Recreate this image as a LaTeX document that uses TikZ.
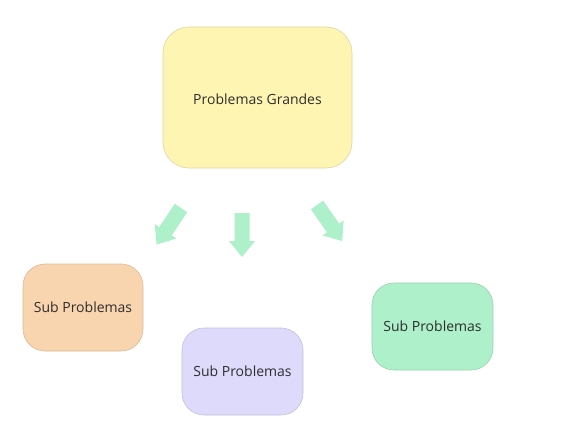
\documentclass[tikz,border=0pt]{standalone}
\usepackage{fontspec}
\setmainfont{Open Sans}
\definecolor{yel}{HTML}{FFF5B2}
\definecolor{peach}{HTML}{F8D4AF}
\definecolor{lav}{HTML}{DEDAFC}
\definecolor{mint}{HTML}{ADF0C9}
\definecolor{txt}{HTML}{2E2E2E}
\tikzset{
  card/.style={rounded corners=22pt, inner sep=0pt, line width=0.6pt,
    text=txt, font=\fontsize{14}{17}\selectfont},
  bigcard/.style={card, rounded corners=26pt},
  blockarr/.pic={
    \fill[mint] (0,-7.5) -- (28,-7.5) -- (28,-13) -- (44,0) -- (28,13) -- (28,7.5) -- (0,7.5) -- cycle;
    \coordinate (-tip) at (44,0);
  }
}
\begin{document}
\begin{tikzpicture}[x=1pt,y=-1pt]
\useasboundingbox (0,0) rectangle (572,436);
\fill[white] (0,0) rectangle (572,436);
\node[bigcard, fill=yel, draw=yel!85!black!90, minimum width=189pt, minimum height=141pt] (big) at (257.5,97.5) {\raisebox{-6.5pt}[0pt][0pt]{Problemas Grandes}};
\node[card, fill=peach, draw=peach!88!black, minimum width=120pt, minimum height=87pt] (s1) at (83,307.5) {Sub Problemas};
\node[card, fill=lav, draw=lav!88!black, minimum width=121pt, minimum height=87pt] (s2) at (242.5,371.5) {Sub Problemas};
\node[card, fill=mint, draw=mint!88!black, minimum width=121pt, minimum height=87pt] (s3) at (432.5,326.5) {Sub Problemas};
\pic[rotate=-123.7] (a1) at (181,208) {blockarr};
\pic[rotate=-90] (a2) at (242,213) {blockarr};
\pic[rotate=-55] (a3) at (317,205) {blockarr};
\end{tikzpicture}
\end{document}
